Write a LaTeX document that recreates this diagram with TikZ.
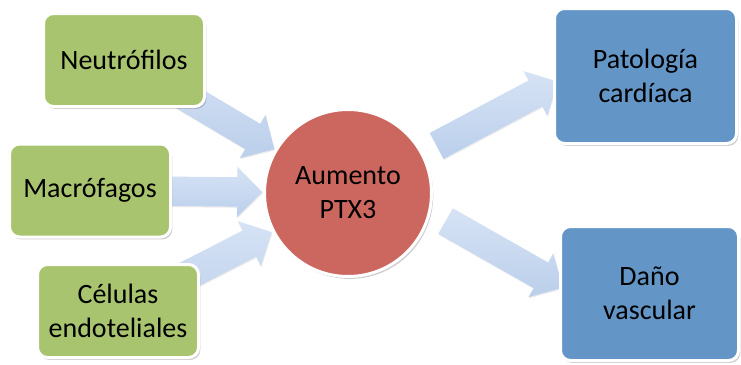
\documentclass[tikz,border=0pt]{standalone}
\usepackage{fontspec}
\setmainfont{Carlito}
\usetikzlibrary{calc,shapes.arrows,shadows,backgrounds}

\definecolor{boxgreen}{HTML}{A9C46E}
\definecolor{hubred}{HTML}{CC6760}
\definecolor{outblue}{HTML}{6396C7}
\definecolor{arrowlight}{HTML}{D6E3F5}
\definecolor{arrowdark}{HTML}{BBCFEB}

\tikzset{
  softshadow/.style={drop shadow={shadow xshift=1.8pt, shadow yshift=-2.4pt,
      opacity=0.28, fill=black!70}},
  card/.style={rectangle, rounded corners=10pt, draw=white, line width=3pt,
    inner sep=0pt, align=center, text=black,
    font=\fontsize{28}{34}\selectfont, softshadow},
  sourcebox/.style={card, fill=boxgreen, minimum width=161pt, minimum height=93pt},
  targetbox/.style={card, fill=outblue},
  hub/.style={circle, fill=hubred, draw=white, line width=3pt, minimum size=167pt,
    inner sep=0pt, align=center, text=black,
    font=\fontsize{28}{34}\selectfont, softshadow},
  blockarrow/.style={single arrow, single arrow head extend=10.5pt,
    single arrow tip angle=90, inner xsep=0pt, inner ysep=14.5pt, draw=none,
    top color=arrowlight, bottom color=arrowdark,
    drop shadow={shadow xshift=0.6pt, shadow yshift=-1.2pt, opacity=0.15}},
}

% fat block arrow from a tail coordinate to a tip coordinate
\newcommand\drawblockarrow[2]{%
  \path let \p1=($(#2)-(#1)$), \n1={atan2(\y1,\x1)}, \n2={veclen(\x1,\y1)} in
    node[blockarrow, rotate=\n1, minimum height=\n2] at ($(#1)!0.5!(#2)$) {};
}

\begin{document}
\begin{tikzpicture}[x=1pt, y=-1pt]
  \useasboundingbox (0,0) rectangle (741,364);

  % cells producing PTX3
  \node[sourcebox] (neu) at (124,60)    {Neutrófilos};
  \node[sourcebox] (mac) at (90,190.5)  {Macrófagos};
  \node[sourcebox] (cel) at (118,311)   {Células\\endoteliales};

  % central node
  \node[hub] (ptx) at (348,193) {Aumento\\PTX3};

  % consequences
  \node[targetbox, minimum width=182pt, minimum height=135pt] (pat) at (645.5,76)
    {Patología\\cardíaca};
  \node[targetbox, minimum width=178pt, minimum height=134pt] (dau) at (649.5,293.5)
    {Daño\\vascular};

  % arrow end points
  \coordinate (neuTail) at (neu.center);
  \coordinate (neuTip)  at ($(ptx.center)!93pt!(neu.center)$);
  \coordinate (macTail) at (mac.center);
  \coordinate (macTip)  at ($(ptx.center)!93pt!(mac.center)$);
  \coordinate (celTail) at (cel.center);
  \coordinate (celTip)  at ($(ptx.center)!93pt!(cel.center)$);
  \coordinate (patTail) at ($(ptx.center)!93pt!(pat.185)$);
  \coordinate (patTip)  at ($(pat.185)!2pt!(ptx.center)$);
  \coordinate (dauTail) at ($(ptx.center)!1.11!(ptx.-15)$);
  \coordinate (dauTip)  at ($(dau.175)!3pt!(dauTail)$);

  \begin{scope}[on background layer]
    \drawblockarrow{neuTail}{neuTip}
    \drawblockarrow{macTail}{macTip}
    \drawblockarrow{celTail}{celTip}
    \drawblockarrow{patTail}{patTip}
    \drawblockarrow{dauTail}{dauTip}
  \end{scope}
\end{tikzpicture}
\end{document}
